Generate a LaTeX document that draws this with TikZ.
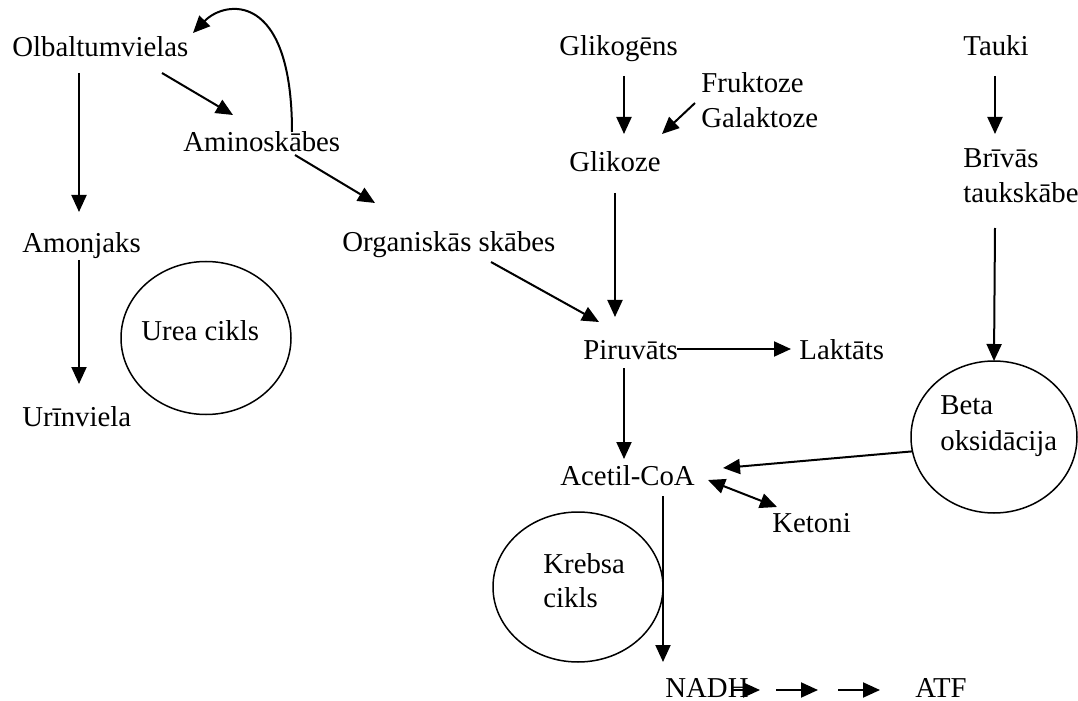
\documentclass[tikz,border=0pt]{standalone}
\usepackage{fontspec}
\setmainfont{Liberation Serif}
\usetikzlibrary{arrows.meta,shapes.geometric}
\begin{document}
\begin{tikzpicture}[x=0.5pt,y=-0.5pt,
  lbl/.style={anchor=base west,inner sep=0pt,font=\fontsize{14.4pt}{17.5pt}\selectfont},
  tip/.style={Triangle[length=8.5pt,width=7.5pt]},
  arr/.style={line width=1pt,-{Triangle[length=8.5pt,width=7.5pt]}},
  dblarr/.style={line width=1pt,{Triangle[length=8.5pt,width=7.5pt]}-{Triangle[length=8.5pt,width=7.5pt]}},
  cyc/.style={draw,ellipse,line width=0.75pt,inner sep=0pt,outer sep=0pt}]
\useasboundingbox (0,0) rectangle (1078,701);
\clip (0,0) rectangle (1078,701);

% cycles
\node[cyc,minimum width=85pt,minimum height=76.5pt] (urea) at (206,338) {};
\node[cyc,minimum width=83pt,minimum height=76pt] (beta) at (994,437) {};
\node[cyc,minimum width=85pt,minimum height=75pt] (krebs) at (578,587) {};

% labels
\node[lbl] (olb) at (12,57) {Olbaltumvielas};
\node[lbl] (amino) at (183,152) {Aminoskābes};
\node[lbl] (amon) at (22,253) {Amonjaks};
\node[lbl] (urin) at (22,426) {Urīnviela};
\node[lbl] (ureatxt) at (141,341) {Urea cikls};
\node[lbl] (org) at (342,252) {Organiskās skābes};
\node[lbl] (glikogens) at (559,56) {Glikogēns};
\node[lbl] (frukt) at (701,93) {Fruktoze};
\node[lbl] (galakt) at (701,128) {Galaktoze};
\node[lbl] (glikoze) at (569,172) {Glikoze};
\node[lbl] (tauki) at (963,56) {Tauki};
\node[lbl] (brivas) at (963,168) {Brīvās};
\node[lbl] (tauksk) at (963,203) {taukskābes};
\node[lbl] (piruv) at (583,359) {Piruvāts};
\node[lbl] (laktats) at (799,359) {Laktāts};
\node[lbl] (betaA) at (940,415) {Beta};
\node[lbl] (betaB) at (940,450) {oksidācija};
\node[lbl] (acetil) at (560,485) {Acetil-CoA};
\node[lbl] (ketoni) at (772,532) {Ketoni};
\node[lbl] (krebsA) at (543,573) {Krebsa};
\node[lbl] (krebsB) at (543,607) {cikls};
\node[lbl] (nadh) at (665,697) {NADH};
\node[lbl] (atf) at (915,697) {ATF};

% connector ends
\coordinate (olb-s) at (79,73);
\coordinate (amon-n) at (79,212);
\coordinate (olb-se) at (162,73);
\coordinate (amino-nw) at (233,115);
\coordinate (amino-n) at (292,132);
\coordinate (olb-ne) at (193,33);
\coordinate (amino-se) at (295,155);
\coordinate (org-n) at (375,203);
\coordinate (amon-s) at (79,260);
\coordinate (urin-n) at (79,384);
\coordinate (glikogens-s) at (624,76);
\coordinate (glikoze-n) at (624,134);
\coordinate (galakt-w) at (695,103);
\coordinate (glikoze-ne) at (662,134);
\coordinate (tauki-s) at (995,76);
\coordinate (brivas-n) at (995,134);
\coordinate (glikoze-s) at (615,193);
\coordinate (piruv-n) at (615,317);
\coordinate (org-se) at (491,262);
\coordinate (piruv-nw) at (599,322);
\coordinate (tauksk-s) at (995,228);
\coordinate (piruv-e) at (677,349);
\coordinate (laktats-w) at (791,349);
\coordinate (piruv-s) at (624,368);
\coordinate (acetil-n) at (624,459);
\coordinate (acetil-e) at (723,468);
\coordinate (acetil-se) at (708,480);
\coordinate (ketoni-n) at (777,507);
\coordinate (acetil-s) at (663,496);
\coordinate (nadh-n) at (663,662);
\coordinate (chainA1) at (733,690);
\coordinate (chainA2) at (760,690);
\coordinate (chainB1) at (776,690);
\coordinate (chainB2) at (818,690);
\coordinate (chainC1) at (838,690);
\coordinate (chainC2) at (880,690);

% protein branch
\draw[arr] (olb-s) -- (amon-n);
\draw[arr] (olb-se) -- (amino-nw);
\draw[arr] (amino-n) .. controls (292,-10) and (225,0) .. (olb-ne);
\draw[arr] (amino-se) -- (org-n);
\draw[arr] (amon-s) -- (urin-n);

% carbohydrate branch
\draw[arr] (glikogens-s) -- (glikoze-n);
\draw[arr] (galakt-w) -- (glikoze-ne);
\draw[arr] (glikoze-s) -- (piruv-n);
\draw[arr] (org-se) -- (piruv-nw);
\draw[arr] (piruv-e) -- (laktats-w);
\draw[arr] (piruv-s) -- (acetil-n);

% fat branch
\draw[arr] (tauki-s) -- (brivas-n);
\draw[arr] (tauksk-s) -- (beta.north);
\draw[arr] (beta.190) -- (acetil-e);

% acetyl-CoA fate
\draw[dblarr] (acetil-se) -- (ketoni-n);
\draw[arr] (acetil-s) -- (nadh-n);
\draw[arr] (chainA1) -- (chainA2);
\draw[arr] (chainB1) -- (chainB2);
\draw[arr] (chainC1) -- (chainC2);
\end{tikzpicture}
\end{document}
